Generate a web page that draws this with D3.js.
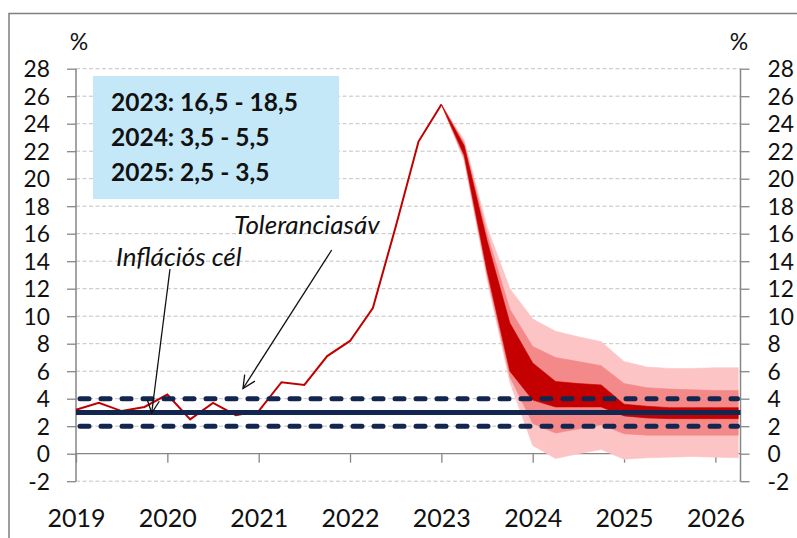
<!DOCTYPE html>
<html>
<head>
<meta charset="utf-8">
<script src="https://cdn.jsdelivr.net/npm/d3@7"></script>
<style>
  html, body { margin: 0; padding: 0; background: #fff; }
  svg { display: block; }
</style>
</head>
<body>
<svg id="chart" width="797" height="538"></svg>
<script>
// ---- data ----
const years = ["2019", "2020", "2021", "2022", "2023", "2024", "2025", "2026"];
const yTicks = [-2, 0, 2, 4, 6, 8, 10, 12, 14, 16, 18, 20, 22, 24, 26, 28];
// quarterly CPI, 2019Q1 .. 2023Q1
const histValues = [3.2, 3.7, 3.1, 3.4, 4.3, 2.5, 3.7, 2.8, 3.1, 5.2, 5.0, 7.1, 8.2, 10.6, 16.5, 22.7, 25.4];
// fan chart, 2023Q1 .. 2026Q2
const fanStartQuarter = 16;
const lightLow  = [25.4, 21.3, 12.7, 5.2, 0.6, -0.35, 0.0, 0.3, -0.4, -0.3, -0.25, -0.2, -0.25, -0.3];
const medLow    = [25.4, 21.5, 13.0, 5.6, 2.2, 1.5, 1.8, 2.1, 1.45, 1.35, 1.35, 1.35, 1.35, 1.35];
const darkLow   = [25.4, 21.7, 13.3, 6.0, 3.9, 3.4, 3.4, 3.4, 2.75, 2.6, 2.55, 2.55, 2.55, 2.55];
const darkHigh  = [25.4, 22.4, 15.5, 9.5, 6.6, 5.25, 5.1, 5.0, 3.6, 3.45, 3.35, 3.35, 3.35, 3.35];
const medHigh   = [25.4, 22.6, 16.0, 10.5, 7.8, 7.0, 6.7, 6.4, 5.1, 4.8, 4.7, 4.65, 4.6, 4.6];
const lightHigh = [25.4, 22.8, 16.5, 12.0, 9.8, 8.9, 8.5, 8.15, 6.7, 6.3, 6.2, 6.2, 6.25, 6.25];
const targetValue = 3;
const toleranceBand = [2, 4];
const boxLines = ["2023: 16,5 - 18,5", "2024: 3,5 - 5,5", "2025: 2,5 - 3,5"];
const labelTarget = "Inflációs cél";
const labelTolerance = "Toleranciasáv";

(function draw() {
// ---- layout ----
const svg = d3.select("#chart");
const pL = 76, pR = 740.5, pT = 68.7, pB = 481.2;
const x = d3.scaleLinear().domain([0, 29.1]).range([pL, pR]);
const y = d3.scaleLinear().domain([-2, 28]).range([pB, pT]);
const font = "Lato, 'Open Sans', sans-serif";
const axisColor = "#868686";
const navy = "#13264f";
const ink = "#111";

// outer frame
svg.append("rect").attr("x", 9).attr("y", 13.5).attr("width", 820).attr("height", 560)
  .attr("fill", "none").attr("stroke", "#7f7f7f").attr("stroke-width", 1.5);

// gridlines
svg.append("g").selectAll("line").data(yTicks.filter(d => d !== 0)).join("line")
  .attr("x1", pL).attr("x2", pR)
  .attr("y1", d => y(d)).attr("y2", d => y(d))
  .attr("stroke", "#c3c3c3").attr("stroke-width", 1).attr("stroke-dasharray", "4,2.5");

// zero line (category axis)
svg.append("line").attr("x1", pL).attr("x2", pR).attr("y1", y(0)).attr("y2", y(0))
  .attr("stroke", axisColor).attr("stroke-width", 1.3);

const fmt = d => String(d);
// left axis
const gL = svg.append("g").attr("transform", `translate(${pL},0)`)
  .call(d3.axisLeft(y).tickValues(yTicks).tickSize(9).tickFormat(fmt));
gL.select(".domain").attr("d", `M0,${y(28)}V${y(-2)}`).attr("stroke", axisColor).attr("stroke-width", 1.5);
gL.selectAll(".tick line").attr("stroke", axisColor).attr("stroke-width", 1.3);
gL.selectAll(".tick text").attr("x", -26).attr("font-size", 22.8).attr("font-family", font)
  .attr("fill", ink).attr("dy", "0.36em");

// right axis
const gR = svg.append("g").attr("transform", `translate(${pR},0)`)
  .call(d3.axisRight(y).tickValues(yTicks).tickSize(9).tickFormat(fmt));
gR.select(".domain").attr("d", `M0,${y(28)}V${y(-2)}`).attr("stroke", axisColor).attr("stroke-width", 1.5);
gR.selectAll(".tick line").attr("stroke", axisColor).attr("stroke-width", 1.3);
gR.selectAll(".tick text").attr("x", 27).attr("font-size", 22.8).attr("font-family", font)
  .attr("fill", ink).attr("dy", "0.36em");

// x axis ticks & labels
const yearQ = years.map((d, i) => i * 4);
const gX = svg.append("g").attr("transform", `translate(0,${y(0)})`)
  .call(d3.axisBottom(x).tickValues(yearQ).tickSize(9).tickFormat((d, i) => years[i]));
gX.select(".domain").remove();
gX.selectAll(".tick line").attr("stroke", axisColor).attr("stroke-width", 1.3);
gX.selectAll(".tick text").attr("y", 527 - y(0)).attr("dy", 0)
  .attr("font-size", 25).attr("font-family", font).attr("fill", ink);

// % labels
svg.append("text").attr("x", 79).attr("y", 50).attr("text-anchor", "middle")
  .attr("font-size", 23).attr("font-family", font).attr("fill", ink).text("%");
svg.append("text").attr("x", 739).attr("y", 50).attr("text-anchor", "middle")
  .attr("font-size", 23).attr("font-family", font).attr("fill", ink).text("%");

// fan chart
const fanIdx = d3.range(lightLow.length);
function band(lo, hi, color) {
  const area = d3.area()
    .x(i => x(fanStartQuarter + i))
    .y0(i => y(lo[i])).y1(i => y(hi[i]));
  svg.append("path").datum(fanIdx).attr("d", area).attr("fill", color).attr("stroke", color).attr("stroke-width", 0.6);
}
band(lightLow, lightHigh, "#fcc4c4");
band(medLow, medHigh, "#f48989");
band(darkLow, darkHigh, "#c40000");

// historical line
const line = d3.line().x((d, i) => x(i)).y(d => y(d));
svg.append("path").datum(histValues).attr("d", line)
  .attr("fill", "none").attr("stroke", "#c00000").attr("stroke-width", 2);

// target and tolerance band
svg.append("line").attr("x1", pL).attr("x2", pR).attr("y1", y(targetValue)).attr("y2", y(targetValue))
  .attr("stroke", navy).attr("stroke-width", 5);
svg.append("g").selectAll("line").data(toleranceBand).join("line")
  .attr("x1", pL + 4).attr("x2", pR - 3)
  .attr("y1", d => y(d)).attr("y2", d => y(d))
  .attr("stroke", navy).attr("stroke-width", 5).attr("stroke-linecap", "round")
  .attr("stroke-dasharray", "9,12");

// info box
svg.append("rect").attr("x", 93).attr("y", 76).attr("width", 246).attr("height", 123).attr("fill", "#c5e8f8");
svg.append("g").selectAll("text").data(boxLines).join("text")
  .attr("x", 111).attr("y", (d, i) => 111 + i * 35)
  .attr("font-size", 24.5).attr("font-weight", "bold").attr("font-family", font).attr("fill", ink)
  .text(d => d);

// annotations
svg.append("text").attr("x", 116).attr("y", 266).attr("font-size", 26).attr("font-style", "italic")
  .attr("font-family", font).attr("fill", ink).text(labelTarget);
svg.append("text").attr("x", 234).attr("y", 234).attr("font-size", 26).attr("font-style", "italic")
  .attr("font-family", font).attr("fill", ink).text(labelTolerance);

function arrow(x1, y1, x2, y2) {
  svg.append("line").attr("x1", x1).attr("y1", y1).attr("x2", x2).attr("y2", y2)
    .attr("stroke", ink).attr("stroke-width", 1.3);
  const ang = Math.atan2(y2 - y1, x2 - x1);
  const L = 14, a = 0.45;
  const p1 = [x2 - L * Math.cos(ang - a), y2 - L * Math.sin(ang - a)];
  const p2 = [x2 - L * Math.cos(ang + a), y2 - L * Math.sin(ang + a)];
  svg.append("path").attr("d", `M${p1[0]},${p1[1]}L${x2},${y2}L${p2[0]},${p2[1]}`)
    .attr("fill", "none").attr("stroke", ink).attr("stroke-width", 1.3);
}
arrow(170, 269, 151.7, 413);
arrow(331.7, 250, 243, 388.5);
})();
</script>
</body>
</html>
